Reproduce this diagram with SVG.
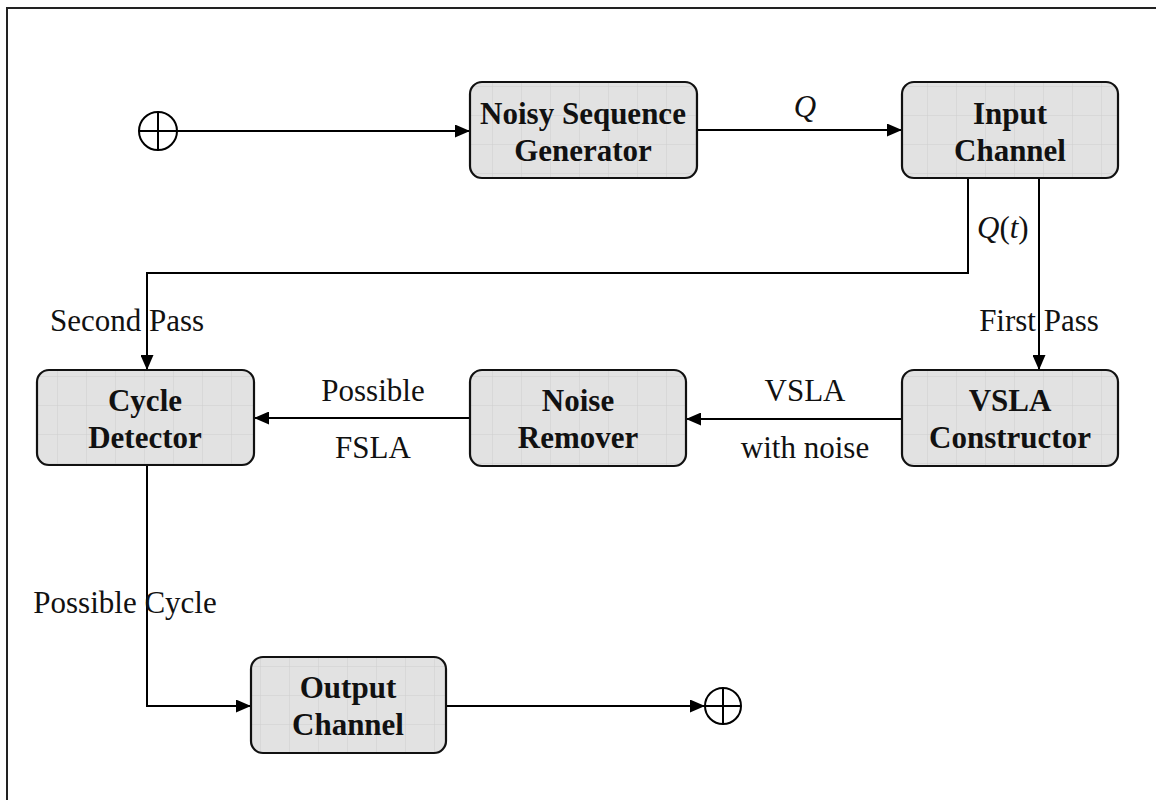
<svg xmlns="http://www.w3.org/2000/svg" width="1156" height="800" viewBox="0 0 1156 800">
<defs>
<pattern id="grid" width="29" height="29" patternUnits="userSpaceOnUse">
<rect width="29" height="29" fill="#e2e2e2"/>
<path d="M29 0V29M0 29H29" stroke="#cfcfcf" stroke-width="1" fill="none"/>
</pattern>
<marker id="arr" markerWidth="15" markerHeight="13" refX="15" refY="6.5" orient="auto" markerUnits="userSpaceOnUse">
<path d="M0 0L15 6.5L0 13Z" fill="#000"/>
</marker>
</defs>
<style>
.box{fill:url(#grid);stroke:#111;stroke-width:2.2}
.bt{font-family:"Liberation Serif","Times New Roman",serif;font-weight:bold;font-size:31px;text-anchor:middle;fill:#111}
.lb{font-family:"Liberation Serif","Times New Roman",serif;font-size:31px;fill:#111}
.ln{fill:none;stroke:#000;stroke-width:2}
.sym{fill:none;stroke:#000;stroke-width:2}
</style>
<rect x="7" y="8" width="1160" height="800" fill="none" stroke="#222" stroke-width="2"/>
<g id="start"><circle class="sym" cx="158" cy="131" r="19"/><path class="sym" d="M139 131H177M158 112V150"/></g>
<g id="end"><circle class="sym" cx="723" cy="706" r="18"/><path class="sym" d="M705 706H741M723 688V724"/></g>
<g id="connectors">
<path class="ln" d="M177 131H470" marker-end="url(#arr)"/>
<path class="ln" d="M697 130H902" marker-end="url(#arr)"/>
<path class="ln" d="M968 178V273H147V370" marker-end="url(#arr)"/>
<path class="ln" d="M1039 178V370" marker-end="url(#arr)"/>
<path class="ln" d="M902 419H686" marker-end="url(#arr)"/>
<path class="ln" d="M470 418H254" marker-end="url(#arr)"/>
<path class="ln" d="M147 465V706H251" marker-end="url(#arr)"/>
<path class="ln" d="M446 706H705" marker-end="url(#arr)"/>
</g>
<g id="labels">
<text class="lb" x="805" y="117" text-anchor="middle" font-style="italic">Q</text>
<text class="lb" x="977" y="238"><tspan font-style="italic">Q</tspan>(<tspan font-style="italic">t</tspan>)</text>
<text class="lb" x="1039" y="331" text-anchor="middle">First Pass</text>
<text class="lb" x="127" y="331" text-anchor="middle">Second Pass</text>
<text class="lb" x="805" y="401" text-anchor="middle">VSLA</text>
<text class="lb" x="805" y="458" text-anchor="middle">with noise</text>
<text class="lb" x="373" y="401" text-anchor="middle">Possible</text>
<text class="lb" x="373" y="458" text-anchor="middle">FSLA</text>
<text class="lb" x="125" y="613" text-anchor="middle">Possible Cycle</text>
</g>
<g id="noisy-sequence-generator"><rect class="box" x="470" y="82" width="227" height="96" rx="12"/><text class="bt" x="583" y="124">Noisy Sequence</text><text class="bt" x="583" y="161">Generator</text></g>
<g id="input-channel"><rect class="box" x="902" y="82" width="216" height="96" rx="12"/><text class="bt" x="1010" y="124">Input</text><text class="bt" x="1010" y="161">Channel</text></g>
<g id="cycle-detector"><rect class="box" x="37" y="370" width="217" height="95" rx="12"/><text class="bt" x="145" y="411">Cycle</text><text class="bt" x="145" y="448">Detector</text></g>
<g id="noise-remover"><rect class="box" x="470" y="370" width="216" height="96" rx="12"/><text class="bt" x="578" y="411">Noise</text><text class="bt" x="578" y="448">Remover</text></g>
<g id="vsla-constructor"><rect class="box" x="902" y="370" width="216" height="96" rx="12"/><text class="bt" x="1010" y="411">VSLA</text><text class="bt" x="1010" y="448">Constructor</text></g>
<g id="output-channel"><rect class="box" x="251" y="657" width="195" height="96" rx="12"/><text class="bt" x="348" y="698">Output</text><text class="bt" x="348" y="735">Channel</text></g>
</svg>
